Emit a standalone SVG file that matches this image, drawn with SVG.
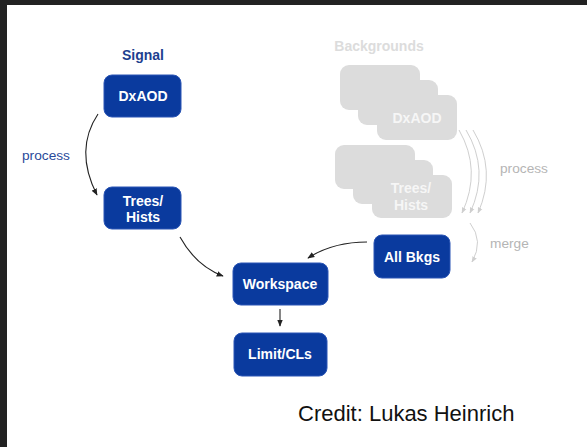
<svg xmlns="http://www.w3.org/2000/svg" width="587" height="447" viewBox="0 0 587 447">
<defs>
<style>
.box{fill:#0a3a9e;stroke:#2a55b5;stroke-width:1}
.gbox{fill:#dcdcdc}
.bt{font-family:"Liberation Sans",Arial,sans-serif;font-weight:bold;font-size:14px;fill:#ffffff;text-anchor:middle}
.gt{font-family:"Liberation Sans",Arial,sans-serif;font-weight:bold;font-size:14px;fill:#f6f6f6;text-anchor:middle}
.hd{font-family:"Liberation Sans",Arial,sans-serif;font-weight:bold;font-size:14px;text-anchor:middle}
.lbl{font-family:"Liberation Sans",Arial,sans-serif;font-size:13.7px}
.edge{fill:none;stroke:#222;stroke-width:1.1}
.gedge{fill:none;stroke:#cfcfcf;stroke-width:1}
</style>
<marker id="ah" viewBox="0 0 10 10" refX="9" refY="5" markerWidth="7" markerHeight="7" orient="auto" markerUnits="userSpaceOnUse">
<path d="M0,1 L10,5 L0,9 Z" fill="#222"/>
</marker>
<marker id="gah" viewBox="0 0 10 10" refX="9" refY="5" markerWidth="6" markerHeight="6" orient="auto" markerUnits="userSpaceOnUse">
<path d="M0,1 L10,5 L0,9 Z" fill="#cfcfcf"/>
</marker>
</defs>
<rect x="0" y="0" width="587" height="447" fill="#ffffff"/>
<rect x="0" y="0" width="587" height="5" fill="#222222"/>
<rect x="0" y="0" width="7" height="447" fill="#222222"/>

<g id="signal-title"><text class="hd" x="143" y="60" fill="#1d3f8f">Signal</text></g>
<g id="backgrounds-title"><text class="hd" x="379" y="51" fill="#dcdcdc">Backgrounds</text></g>

<g id="bkg-dxaod">
<rect class="gbox" x="340" y="65" width="80" height="45" rx="9"/>
<rect class="gbox" x="358" y="80" width="80" height="45" rx="9"/>
<rect class="gbox" x="377" y="95" width="80" height="45" rx="9"/>
<text class="gt" x="417" y="123">DxAOD</text>
</g>
<g id="bkg-trees">
<rect class="gbox" x="335" y="145" width="80" height="44" rx="9"/>
<rect class="gbox" x="353" y="160" width="80" height="44" rx="9"/>
<rect class="gbox" x="372" y="175" width="80" height="43" rx="9"/>
<text class="gt" x="411" y="193">Trees/</text>
<text class="gt" x="411" y="210">Hists</text>
</g>

<g id="sig-dxaod">
<rect class="box" x="104" y="75" width="77" height="42" rx="8"/>
<text class="bt" x="143" y="101">DxAOD</text>
</g>
<g id="sig-trees">
<rect class="box" x="104" y="187" width="77" height="42" rx="8"/>
<text class="bt" x="143" y="206">Trees/</text>
<text class="bt" x="143" y="222">Hists</text>
</g>
<g id="workspace">
<rect class="box" x="233" y="263" width="95" height="42" rx="8"/>
<text class="bt" x="280" y="289">Workspace</text>
</g>
<g id="limit">
<rect class="box" x="234" y="333" width="93" height="43" rx="8"/>
<text class="bt" x="280" y="359">Limit/CLs</text>
</g>
<g id="allbkgs">
<rect class="box" x="374" y="235" width="76" height="43" rx="8"/>
<text class="bt" x="412" y="262">All Bkgs</text>
</g>

<g id="connectors">
<path class="edge" d="M98,114 Q74,150 97,195" marker-end="url(#ah)"/>
<path class="edge" d="M180,237 Q196,266 223,276" marker-end="url(#ah)"/>
<path class="edge" d="M367,242 Q333,242 308,258" marker-end="url(#ah)"/>
<path class="edge" d="M280,309 L280,326" marker-end="url(#ah)"/>
<path class="gedge" d="M459,130 Q482,170 462,213" marker-end="url(#gah)"/>
<path class="gedge" d="M466,130 Q490,170 470,213" marker-end="url(#gah)"/>
<path class="gedge" d="M473,130 Q497,170 478,213" marker-end="url(#gah)"/>
<path class="gedge" d="M470,223 Q484,241 472,262" marker-end="url(#gah)"/>
</g>

<g id="labels">
<text class="lbl" x="22" y="160" fill="#2a4a9a">process</text>
<text class="lbl" x="500" y="173" fill="#b5b5b5">process</text>
<text class="lbl" x="490" y="248" fill="#b5b5b5">merge</text>
<text x="298" y="421" font-family="'Liberation Sans',Arial,sans-serif" font-size="22px" fill="#111">Credit: Lukas Heinrich</text>
</g>
</svg>
